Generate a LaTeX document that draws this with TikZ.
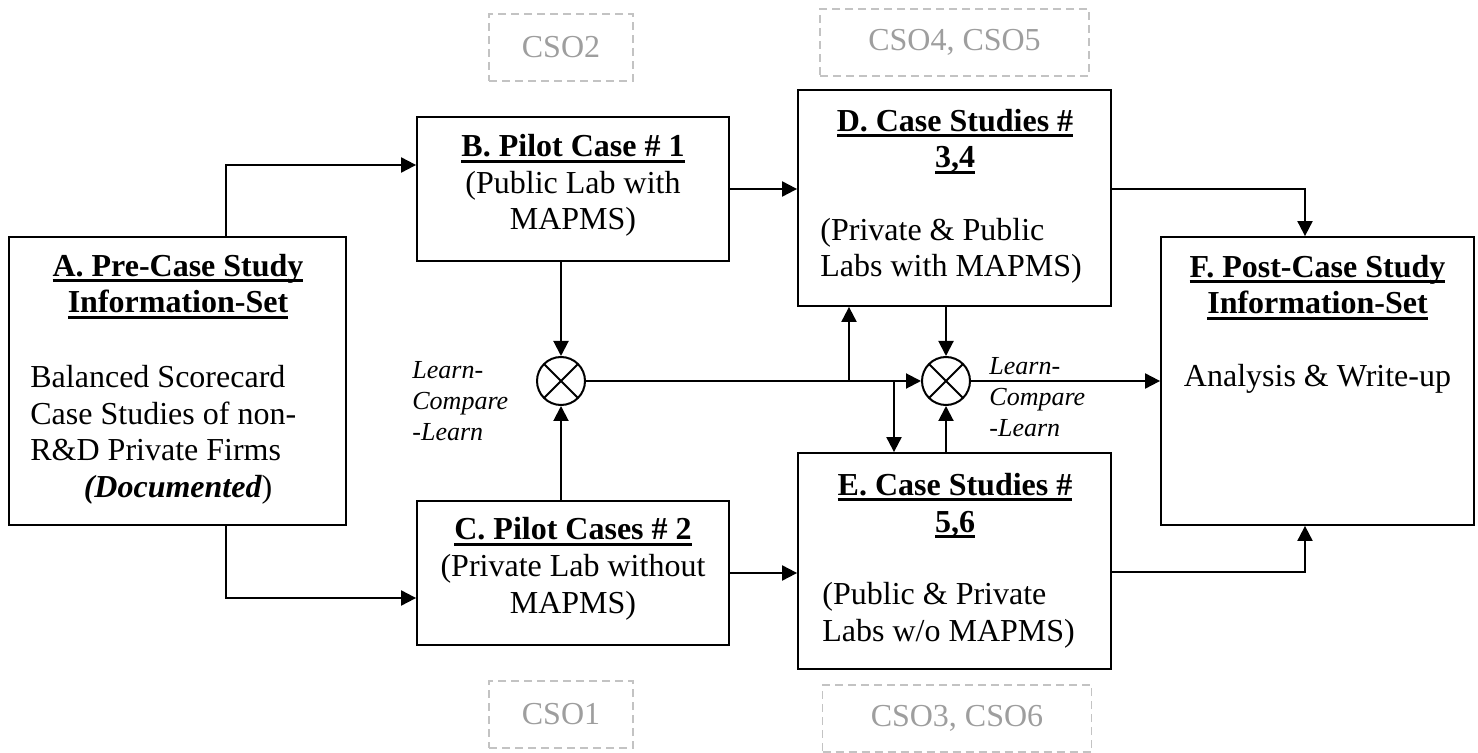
\documentclass[tikz,border=0pt]{standalone}
\usepackage{fontspec}
\setmainfont{Liberation Serif}
\usepackage{tikz}
\usetikzlibrary{arrows.meta}
\usepackage{xcolor}
\definecolor{csotext}{RGB}{158, 158, 158}
\definecolor{csoline}{RGB}{195, 195, 195}
\newcommand{\uln}[1]{\setbox0=\hbox{#1}\rlap{\rule[-3pt]{\wd0}{1.5pt}}\box0}

\begin{document}
\begin{tikzpicture}[x=0.5pt, y=-0.5pt,
        box/.style={draw, line width=0.9pt, inner sep=0pt},
        txt/.style={font=\fontsize{16pt}{18.3pt}\selectfont, inner sep=0pt},
        ttl/.style={txt, align=center, anchor=base},
        lcl/.style={font=\fontsize{13pt}{15.5pt}\selectfont\itshape, align=left, anchor=base west, inner sep=0pt},
        cso/.style={draw=csoline, dash pattern=on 4pt off 2.5pt, line width=0.85pt, text=csotext,
            font=\fontsize{16pt}{18pt}\selectfont, minimum height=33.5pt, inner sep=0pt},
        mix/.style={circle, draw, line width=1pt, minimum size=24pt, inner sep=0pt,
            path picture={\draw[line width=1pt] (path picture bounding box.north east) -- (path picture bounding box.south west)
                (path picture bounding box.north west) -- (path picture bounding box.south east);}},
        arr/.style={-{Triangle[length=7.5pt, width=7.5pt]}, line width=1pt}]
        \useasboundingbox (0,0) rectangle (1478,753);
        % boxes
        \node[box, minimum width=168.5pt, minimum height=144pt] (A) at (177.5,381) {};
        \node[box, minimum width=156pt, minimum height=72pt] (B) at (573,189) {};
        \node[box, minimum width=156pt, minimum height=72pt] (C) at (573,573) {};
        \node[box, minimum width=156.5pt, minimum height=108pt] (D) at (954.5,198) {};
        \node[box, minimum width=156.5pt, minimum height=108pt] (E) at (954.5,561) {};
        \node[box, minimum width=156.5pt, minimum height=144pt] (F) at (1317.5,381) {};
        % box texts (base = last line)
        \node[ttl] (At) at (178,313) {\uln{\bfseries A. Pre-Case Study}\\\uln{\bfseries Information-Set}};
        \node[txt, align=left, anchor=base west] (Ab) at (30,461) {Balanced Scorecard\\Case Studies of non-\\R\&D Private Firms};
        \node[txt, anchor=base] (Adoc) at (178,498) {{\bfseries\itshape (Documented})};
        \node[ttl] (Bt) at (573,230) {\uln{\bfseries B. Pilot Case \# 1}\\(Public Lab with\\MAPMS)};
        \node[ttl] (Ct) at (573,613) {\uln{\bfseries C. Pilot Cases \# 2}\\(Private Lab without\\MAPMS)};
        \node[ttl] (Dt) at (955,168) {\uln{\bfseries D. Case Studies \#}\\\uln{\bfseries 3,4}};
        \node[txt, align=left, anchor=base west] (Db) at (820,277) {(Private \& Public\\Labs with MAPMS)};
        \node[ttl] (Et) at (955,532) {\uln{\bfseries E. Case Studies \#}\\\uln{\bfseries 5,6}};
        \node[txt, align=left, anchor=base west] (Eb) at (822,641) {(Public \& Private\\Labs w/o MAPMS)};
        \node[ttl] (Ft) at (1317.5,314) {\uln{\bfseries F. Post-Case Study}\\\uln{\bfseries Information-Set}};
        \node[txt, anchor=base] (Fb) at (1317.5,387) {Analysis \& Write-up};
        % compare points
        \node[mix] (X1) at (561,381) {};
        \node[mix] (X2) at (946,381) {};
        \node[lcl] (L1) at (412,441) {Learn-\\Compare\\-Learn};
        \node[lcl] (L2) at (989,437) {Learn-\\Compare\\-Learn};
        % case study outcomes
        \node[cso, minimum width=72pt] (cso2) at (561,47.5) {CSO2};
        \node[cso, minimum width=72pt] (cso1) at (561,714.5) {CSO1};
        \node[cso, minimum width=134.5pt] (cso45) at (954.5,42.5) {CSO4, CSO5};
        \node[cso, minimum width=134.5pt] (cso36) at (957,718.5) {CSO3, CSO6};
        \coordinate (j1) at (849,381);
        \coordinate (j2) at (894,381);
        % arrows
        \draw[arr] ([xshift=24.25pt]A.north) |- ([yshift=12pt]B.west);
        \draw[arr] ([xshift=24.25pt]A.south) |- ([yshift=-12.5pt]C.west);
        \draw[arr] (B.east) -- (B.east -| D.west);
        \draw[arr] (C.east) -- (C.east -| E.west);
        \draw[arr] (X1 |- B.south) -- (X1.north);
        \draw[arr] (X1 |- C.north) -- (X1.south);
        \draw[arr] (X1.east) -- (X2.west);
        \draw[arr] (j1) -- (j1 |- D.south);
        \draw[arr] (j2) -- (j2 |- E.north);
        \draw[arr] (X2 |- D.south) -- (X2.north);
        \draw[arr] (X2 |- E.north) -- (X2.south);
        \draw[arr] (X2.east) -- (X2 -| F.west);
        \draw[arr] ([yshift=4.5pt]D.east) -| ([xshift=-6.25pt]F.north);
        \draw[arr] ([yshift=-5.5pt]E.east) -| ([xshift=-6.25pt]F.south);
    \end{tikzpicture}
\end{document}
